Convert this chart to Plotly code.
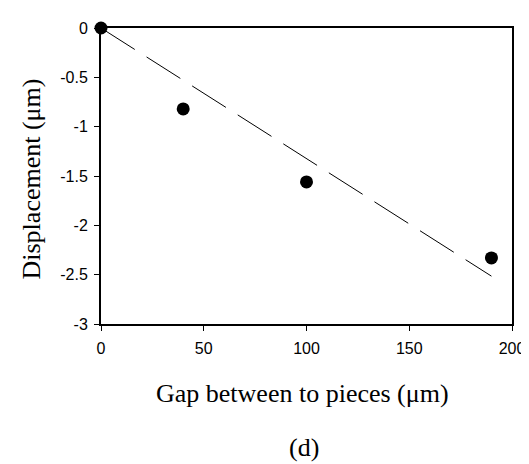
import plotly.graph_objects as go

# Data
gap_um = [0, 40, 100, 190]
displacement_um = [0.0, -0.82, -1.56, -2.33]
fit_x = [0, 190]
fit_y = [0.0, -2.515]
x_ticks = [0, 50, 100, 150, 200]
y_ticks = [0, -0.5, -1, -1.5, -2, -2.5, -3]
y_tick_text = ["0", "-0.5", "-1", "-1.5", "-2", "-2.5", "-3"]

fig = go.Figure()
fig.add_trace(go.Scatter(x=fit_x, y=fit_y, mode="lines",
                         line=dict(color="black", width=1, dash="40px,14px"),
                         showlegend=False, hoverinfo="skip"))
fig.add_trace(go.Scatter(x=gap_um, y=displacement_um, mode="markers",
                         marker=dict(color="black", size=13),
                         showlegend=False, cliponaxis=False))

axis_common = dict(showline=True, linecolor="black", linewidth=2, mirror=True,
                   ticks="outside", ticklen=5, tickwidth=1, tickcolor="black",
                   showgrid=False, zeroline=False,
                   tickfont=dict(family="Liberation Sans, Arial", size=16, color="black"))

fig.update_xaxes(range=[0, 200], tickvals=x_ticks, ticklabelstandoff=4, **axis_common)
fig.update_yaxes(range=[-3, 0], tickvals=y_ticks, ticktext=y_tick_text,
                 ticklabelstandoff=3, **axis_common)

serif = dict(family="Liberation Serif, Times New Roman", size=26, color="black")
fig.add_annotation(text="Displacement (μm)", xref="paper", yref="paper",
                   x=-0.169, y=0.49, textangle=-90, showarrow=False,
                   xanchor="center", yanchor="middle", font=serif)
fig.add_annotation(text="Gap between to pieces (μm)", xref="paper", yref="paper",
                   x=0.49, y=-0.235, showarrow=False,
                   xanchor="center", yanchor="middle", font=serif)
fig.add_annotation(text="(d)", xref="paper", yref="paper",
                   x=0.495, y=-0.418, showarrow=False,
                   xanchor="center", yanchor="middle", font=serif)

fig.update_layout(width=529, height=464, plot_bgcolor="white", paper_bgcolor="white",
                  margin=dict(l=93, r=16, t=16, b=148))

fig.write_html("out.html")
